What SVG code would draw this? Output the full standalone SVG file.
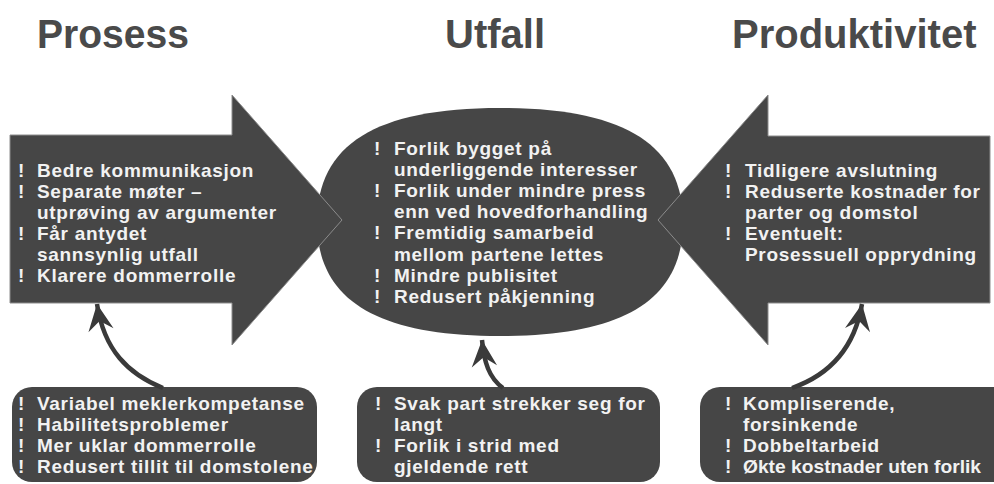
<svg xmlns="http://www.w3.org/2000/svg" width="994" height="484" viewBox="0 0 994 484">
<style>
.title{font-family:"Liberation Sans",Arial,sans-serif;font-weight:bold;font-size:40px;fill:#4a4a4a}
.shape{fill:#464646}
.arrow{fill:#464646;stroke:#8c8c8c;stroke-width:1}
.t{font-family:"Liberation Sans",Arial,sans-serif;font-weight:bold;font-size:19px;fill:#f2f2f2;letter-spacing:0.7px}
.conn{fill:none;stroke:#3a3a3a;stroke-width:4.5}
</style>
<defs>
<marker id="ah" markerUnits="userSpaceOnUse" markerWidth="30" markerHeight="30" viewBox="-24 -13 26 26" refX="0" refY="0" orient="auto">
<path d="M0,0 L-23,-11 L-15,0 L-23,11 Z" fill="#3a3a3a"/>
</marker>
</defs>
<rect width="994" height="484" fill="#ffffff"/>
<g id="titles">
<text class="title" x="37" y="48" textLength="152" lengthAdjust="spacingAndGlyphs">Prosess</text>
<text class="title" x="445" y="48">Utfall</text>
<text class="title" x="732" y="48">Produktivitet</text>
</g>
<g id="utfall">
<path class="shape" d="M500,108 C624.4,108 683,144.5 683,222 C683,299.5 624.4,336 500,336 C375.6,336 317,299.5 317,222 C317,144.5 375.6,108 500,108 Z"/>
</g>
<g id="prosess">
<polygon class="arrow" points="10,135 232,135 232,95 342,220 232,345 232,303 10,303"/>
<text class="t" x="18" y="177">!</text><text class="t" x="37" y="177">Bedre kommunikasjon</text>
<text class="t" x="18" y="198">!</text><text class="t" x="37" y="198">Separate møter –</text>
<text class="t" x="37" y="219">utprøving av argumenter</text>
<text class="t" x="18" y="240">!</text><text class="t" x="37" y="240">Får antydet</text>
<text class="t" x="37" y="261">sannsynlig utfall</text>
<text class="t" x="18" y="282">!</text><text class="t" x="37" y="282">Klarere dommerrolle</text>
</g>
<g id="produktivitet">
<polygon class="arrow" points="990,136 768,136 768,95 658,220 768,345 768,303 990,303"/>
<text class="t" x="725" y="177">!</text><text class="t" x="745" y="177">Tidligere avslutning</text>
<text class="t" x="725" y="198">!</text><text class="t" x="745" y="198">Reduserte kostnader for</text>
<text class="t" x="745" y="219">parter og domstol</text>
<text class="t" x="725" y="240">!</text><text class="t" x="745" y="240">Eventuelt:</text>
<text class="t" x="745" y="261">Prosessuell opprydning</text>
</g>
<g id="utfall-text">
<text class="t" x="374" y="155">!</text><text class="t" x="394" y="155">Forlik bygget på</text>
<text class="t" x="394" y="176">underliggende interesser</text>
<text class="t" x="374" y="197">!</text><text class="t" x="394" y="197">Forlik under mindre press</text>
<text class="t" x="394" y="218">enn ved hovedforhandling</text>
<text class="t" x="374" y="239">!</text><text class="t" x="394" y="239">Fremtidig samarbeid</text>
<text class="t" x="394" y="261">mellom partene lettes</text>
<text class="t" x="374" y="282">!</text><text class="t" x="394" y="282">Mindre publisitet</text>
<text class="t" x="374" y="303">!</text><text class="t" x="394" y="303">Redusert påkjenning</text>
</g>
<g id="box-prosess">
<rect class="shape" x="12" y="387" width="305" height="95" rx="20"/>
<text class="t" x="18" y="410">!</text><text class="t" x="37" y="410">Variabel meklerkompetanse</text>
<text class="t" x="18" y="431">!</text><text class="t" x="37" y="431">Habilitetsproblemer</text>
<text class="t" x="18" y="452">!</text><text class="t" x="37" y="452">Mer uklar dommerrolle</text>
<text class="t" x="18" y="473">!</text><text class="t" x="37" y="473">Redusert tillit til domstolene</text>
</g>
<g id="box-produktivitet">
<rect class="shape" x="700" y="387" width="320" height="95" rx="20"/>
<text class="t" x="725" y="410">!</text><text class="t" x="743" y="410">Kompliserende,</text>
<text class="t" x="743" y="431">forsinkende</text>
<text class="t" x="725" y="452">!</text><text class="t" x="743" y="452">Dobbeltarbeid</text>
<text class="t" x="725" y="473">!</text><text class="t" x="743" y="473" textLength="238" lengthAdjust="spacingAndGlyphs" style="letter-spacing:0">Økte kostnader uten forlik</text>
</g>
<g id="box-utfall">
<rect class="shape" x="357" y="387" width="303" height="95" rx="20"/>
<text class="t" x="375" y="410">!</text><text class="t" x="394" y="410">Svak part strekker seg for</text>
<text class="t" x="394" y="431">langt</text>
<text class="t" x="375" y="452">!</text><text class="t" x="394" y="452">Forlik i strid med</text>
<text class="t" x="394" y="473">gjeldende rett</text>
</g>
<g id="connectors">
<path class="conn" d="M163,388 C128,374 104,350 97,304" marker-end="url(#ah)"/>
<path class="conn" d="M503,388 C489,378 484,362 482,340" marker-end="url(#ah)"/>
<path class="conn" d="M792,388 C832,374 855,345 862,304" marker-end="url(#ah)"/>
</g>
</svg>
